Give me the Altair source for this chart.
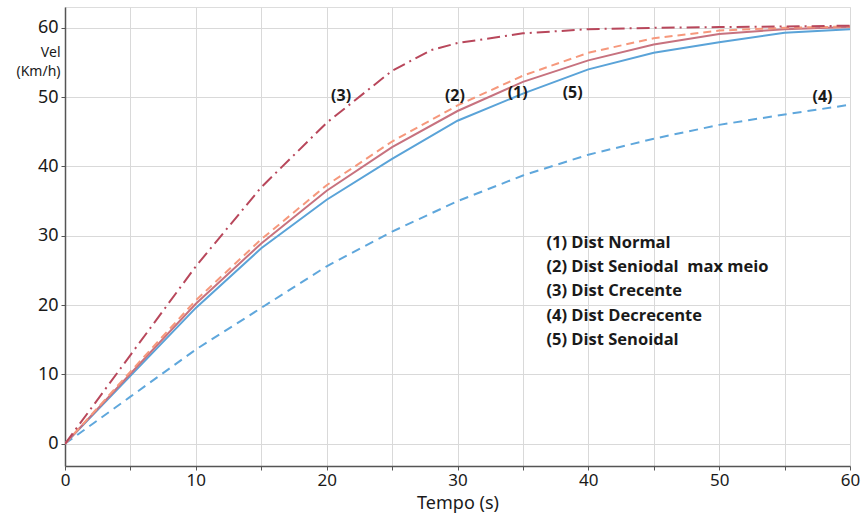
import altair as alt
import pandas as pd

# ---- data ----
t_main = [0, 5, 10, 15, 20, 25, 30, 35, 40, 45, 50, 55, 60]
v_normal = [0, 10.1, 20.2, 28.9, 36.5, 42.8, 48.0, 52.2, 55.3, 57.6, 59.1, 59.8, 60.1]
v_sen_meio = [0, 10.4, 20.7, 29.5, 37.3, 43.6, 48.8, 53.1, 56.4, 58.5, 59.6, 60.0, 60.2]
v_decrec = [0, 6.8, 13.6, 19.6, 25.6, 30.6, 35.0, 38.7, 41.7, 44.0, 46.0, 47.5, 48.9]
v_senoidal = [0, 9.8, 19.6, 28.2, 35.2, 41.1, 46.6, 50.5, 54.0, 56.4, 57.9, 59.3, 59.8]
t_crec = [0, 5, 10, 15, 20, 25, 28, 30, 35, 40, 45, 50, 55, 60]
v_crec = [0, 12.8, 25.6, 37.0, 46.3, 53.8, 56.8, 57.8, 59.2, 59.8, 60.0, 60.1, 60.2, 60.3]

tag_text = ["(3)", "(2)", "(1)", "(5)", "(4)"]
tag_x = [21.1, 29.8, 34.6, 38.8, 57.9]
tag_y = [50.2, 50.2, 50.6, 50.6, 50.0]

legend_lines = ["(1) Dist Normal", "(2) Dist Seniodal\u00a0 max meio", "(3) Dist Crecente",
                "(4) Dist Decrecente", "(5) Dist Senoidal"]
legend_x = 36.8
legend_y = [29.0, 25.5, 22.0, 18.5, 15.0]

x_ticks = [0, 5, 10, 15, 20, 25, 30, 35, 40, 45, 50, 55, 60]
y_ticks = [0, 10, 20, 30, 40, 50, 60]

XDOM = [0, 60]
YDOM = [-3.2, 63]

FONT = "Noto Sans"
BFONT = "Open Sans"

xs = alt.Scale(domain=XDOM, nice=False, zero=False)
ys = alt.Scale(domain=YDOM, nice=False, zero=False)


def series(t, v, color, dash, width=2):
    df = pd.DataFrame({"t": t, "v": v})
    props = dict(color=color, strokeWidth=width, clip=True)
    if dash:
        props["strokeDash"] = dash
    return alt.Chart(df).mark_line(**props).encode(
        x=alt.X("t:Q", scale=xs),
        y=alt.Y("v:Q", scale=ys),
    )


base_axes = alt.Chart(pd.DataFrame({"t": [0], "v": [0]})).mark_point(opacity=0).encode(
    x=alt.X("t:Q", scale=xs,
            axis=alt.Axis(values=x_ticks, title="Tempo (s)",
                          labelExpr="datum.value % 10 == 0 ? datum.label : ''",
                          labelFlush=False,
                          grid=True, gridColor="#d9d9d9", gridWidth=1,
                          domainColor="#555555", domainWidth=1.5,
                          tickColor="#555555", tickSize=4,
                          labelFont=FONT, labelFontSize=17, labelColor="#1a1a1a",
                          labelPadding=2,
                          titleFont=FONT, titleFontSize=18, titleFontWeight="normal",
                          titleColor="#1a1a1a", titlePadding=6)),
    y=alt.Y("v:Q", scale=ys,
            axis=alt.Axis(values=y_ticks, title=["Vel", "(Km/h)"],
                          labelFlush=False,
                          grid=True, gridColor="#d9d9d9", gridWidth=1,
                          domainColor="#555555", domainWidth=1.5,
                          tickColor="#555555", tickSize=4,
                          labelFont=FONT, labelFontSize=18, labelColor="#1a1a1a",
                          labelPadding=3,
                          titleFont=FONT, titleFontSize=14, titleFontWeight="normal",
                          titleColor="#1a1a1a", titleAngle=0, titleAlign="right",
                          titleBaseline="top", titleX=-5, titleY=38, titleLineHeight=19)),
)

l4 = series(t_main, v_decrec, "#5fa7dc", [9, 6])
l5 = series(t_main, v_senoidal, "#5aa3d8", None)
l1 = series(t_main, v_normal, "#c7727f", None)
l2 = series(t_main, v_sen_meio, "#f6987c", [8, 5])
l3 = series(t_crec, v_crec, "#b8475b", [13, 5, 2, 5])

tags = alt.Chart(pd.DataFrame({"x": tag_x, "y": tag_y, "s": tag_text})).mark_text(
    font=BFONT, fontSize=16, fontWeight="bold", color="#1a1a1a"
).encode(x=alt.X("x:Q", scale=xs), y=alt.Y("y:Q", scale=ys), text="s:N")

legend = alt.Chart(pd.DataFrame({"y": legend_y, "s": legend_lines})).mark_text(
    font=BFONT, fontSize=16.5, fontWeight="bold", color="#1a1a1a", align="left"
).encode(x=alt.value((legend_x - XDOM[0]) / (XDOM[1] - XDOM[0]) * 785),
         y=alt.Y("y:Q", scale=ys), text="s:N")

chart = alt.layer(base_axes, l4, l5, l1, l2, l3, tags, legend).properties(
    width=785, height=459,
    autosize=alt.AutoSizeParams(type="none"),
    padding={"left": 65, "top": 7, "right": 11, "bottom": 49},
).configure_view(stroke="#999999", strokeWidth=1.5).configure(background="white")

chart.save("out.html", embed_options={"renderer": "svg", "actions": False})
